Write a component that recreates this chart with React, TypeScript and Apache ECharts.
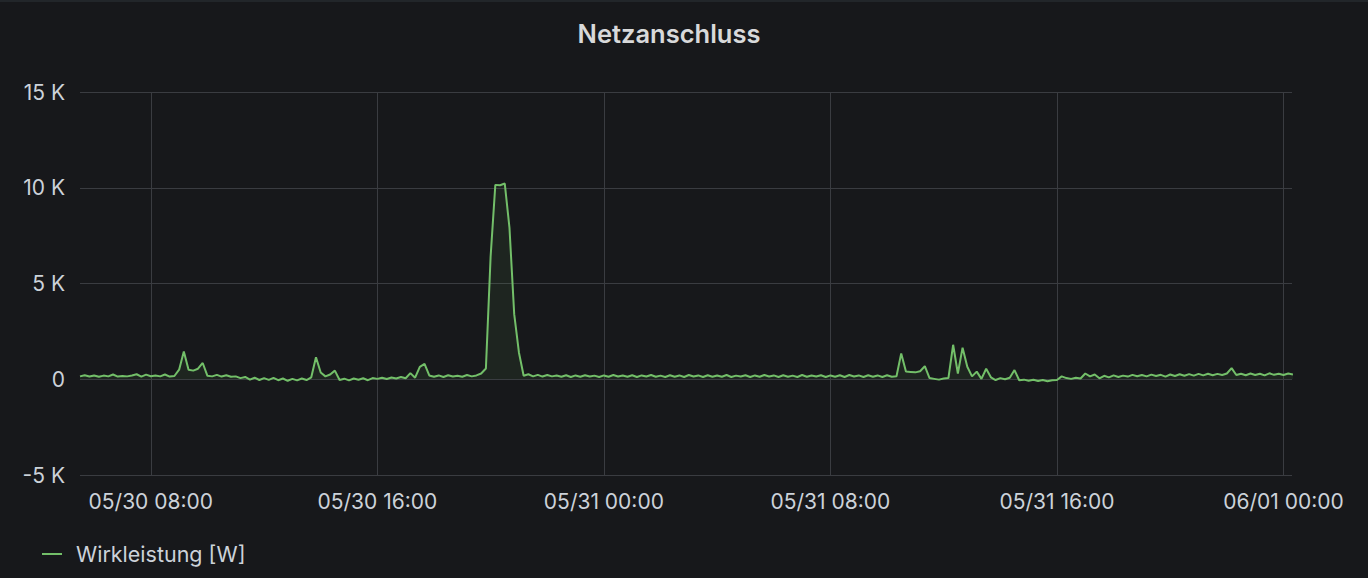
import { useEffect, useRef } from "react";
import * as echarts from "echarts";

const TITLE = "Netzanschluss";
const SERIES_NAME = "Wirkleistung [W]";

// time is measured in hours after 05/30 00:00; one sample every 10 minutes
const START_HOUR = 5.5;
const STEP_HOURS = 1 / 6;
const X_MIN = 5.5;
const X_MAX = 48.3;
const X_TICK_HOURS = 8;

const Y_MIN = -5000;
const Y_MAX = 15000;
const Y_INTERVAL = 5000;

// Wirkleistung [W], 05/30 05:30 .. 23:50
const values0530 = [
  150, 210, 140,
  200, 130, 190, 150, 250, 140,
  170, 150, 200, 260, 140, 240,
  160, 200, 150, 250, 140, 170,
  500, 1450, 500, 450, 550, 850,
  180, 150, 230, 140, 210, 130,
  150, 60, 120, -20, 80, -40,
  60, -30, 70, -50, 40, -80,
  20, -60, 40, -40, 100, 1150,
  350, 150, 250, 450, -40, 30,
  -60, 40, -30, 50, -50, 60,
  20, 80, 10, 90, 40, 120,
  50, 320, 80, 650, 800, 200,
  130, 200, 120, 210, 140, 180,
  130, 220, 150, 200, 300, 560,
  6400, 10150, 10130, 10220, 7900, 3400,
  1400, 180, 260, 150, 230, 140,
  220, 150, 200, 130, 210, 120,
  200, 130, 210, 140, 190, 120,
];

// 05/31 00:00 .. 23:50
const values0531 = [
  200, 130, 220, 140, 200, 130,
  210, 120, 200, 140, 220, 130,
  190, 120, 210, 130, 200, 120,
  220, 140, 200, 120, 210, 130,
  200, 130, 220, 120, 190, 140,
  210, 120, 200, 130, 220, 140,
  200, 120, 210, 130, 190, 120,
  220, 130, 200, 140, 210, 120,
  200, 130, 210, 120, 220, 140,
  200, 120, 210, 130, 200, 120,
  210, 130, 160, 1350, 400, 380,
  360, 420, 680, 60, 20, -20,
  40, 60, 1800, 300, 1650, 650,
  150, 400, 20, 550, 100, -40,
  60, 0, 80, 480, -50, -20,
  -80, -30, -90, -40, -100, -50,
  -40, 150, 60, 20, 80, 40,
  300, 150, 250, 50, 180, 100,
  200, 120, 190, 140, 230, 160,
  220, 150, 240, 170, 230, 140,
  250, 170, 260, 180, 270, 190,
  280, 200, 290, 210, 280, 220,
  300, 580, 220, 290, 210, 300,
  220, 290, 200, 310, 230, 290,
];

// 06/01 00:00 .. 00:20
const values0601 = [220, 300, 250];

const allValues = [...values0530, ...values0531, ...values0601];

const pad = (n: number) => (n < 10 ? "0" + n : "" + n);
const formatTime = (h: number) => {
  const d = new Date(2021, 4, 30, 0, 0, 0);
  d.setMinutes(d.getMinutes() + Math.round(h * 60));
  return `${pad(d.getMonth() + 1)}/${pad(d.getDate())} ${pad(d.getHours())}:${pad(d.getMinutes())}`;
};
const formatPower = (v: number) => (v === 0 ? "0" : `${v / 1000} K`);

const GREEN = "#73bf69";
const TEXT = "#ccd2d9";
const GRID = "#3a3c41";
const BG = "#17181b";
const FONT = "Inter, 'Noto Sans', sans-serif";

export default function App() {
  const ref = useRef<HTMLDivElement>(null);

  useEffect(() => {
    if (!ref.current) return;
    const chart = echarts.init(ref.current, null, { renderer: "svg" });
    const data = allValues.map((v, i) => [START_HOUR + i * STEP_HOURS, v]);
    chart.setOption({
      animation: false,
      backgroundColor: BG,
      textStyle: { fontFamily: FONT },
      graphic: [
        { type: "rect", left: 0, top: 0, shape: { width: 1368, height: 2 }, style: { fill: "#22262a" } },
      ],
      title: {
        text: TITLE,
        left: 664,
        top: 15,
        textAlign: "center",
        textStyle: { color: "#d8d9da", fontSize: 25.5, fontWeight: 600, fontFamily: FONT },
      },
      grid: { left: 80, right: 76, top: 92, bottom: 103, containLabel: false },
      legend: {
        left: 42,
        top: 543,
        padding: 0,
        icon: "rect",
        itemWidth: 20,
        itemHeight: 2,
        textStyle: { color: TEXT, fontSize: 21.5, fontFamily: FONT, padding: [0, 0, 0, 9] },
        data: [SERIES_NAME],
      },
      xAxis: {
        type: "value",
        min: X_MIN,
        max: X_MAX,
        minInterval: X_TICK_HOURS,
        maxInterval: X_TICK_HOURS,
        axisLine: { show: false },
        axisTick: { show: false },
        axisLabel: {
          color: TEXT,
          fontSize: 21,
          fontFamily: FONT,
          margin: 16,
          showMinLabel: false,
          showMaxLabel: false,
          formatter: (v: number) => formatTime(v),
        },
        splitLine: { show: true, showMinLine: false, showMaxLine: false, lineStyle: { color: GRID, width: 1 } },
      },
      yAxis: {
        type: "value",
        min: Y_MIN,
        max: Y_MAX,
        interval: Y_INTERVAL,
        axisLine: { show: false },
        axisTick: { show: false },
        axisLabel: { color: TEXT, fontSize: 21, fontFamily: FONT, margin: 15, formatter: formatPower },
        splitLine: { show: true, lineStyle: { color: GRID, width: 1 } },
      },
      series: [
        {
          name: SERIES_NAME,
          type: "line",
          data,
          showSymbol: false,
          symbol: "none",
          clip: true,
          lineStyle: { color: GREEN, width: 2 },
          itemStyle: { color: GREEN },
          areaStyle: { color: GREEN, opacity: 0.08 },
        },
      ],
    });
    return () => chart.dispose();
  }, []);

  return <div ref={ref} style={{ position: "fixed", left: 0, top: 0, width: 1368, height: 578 }} />;
}
